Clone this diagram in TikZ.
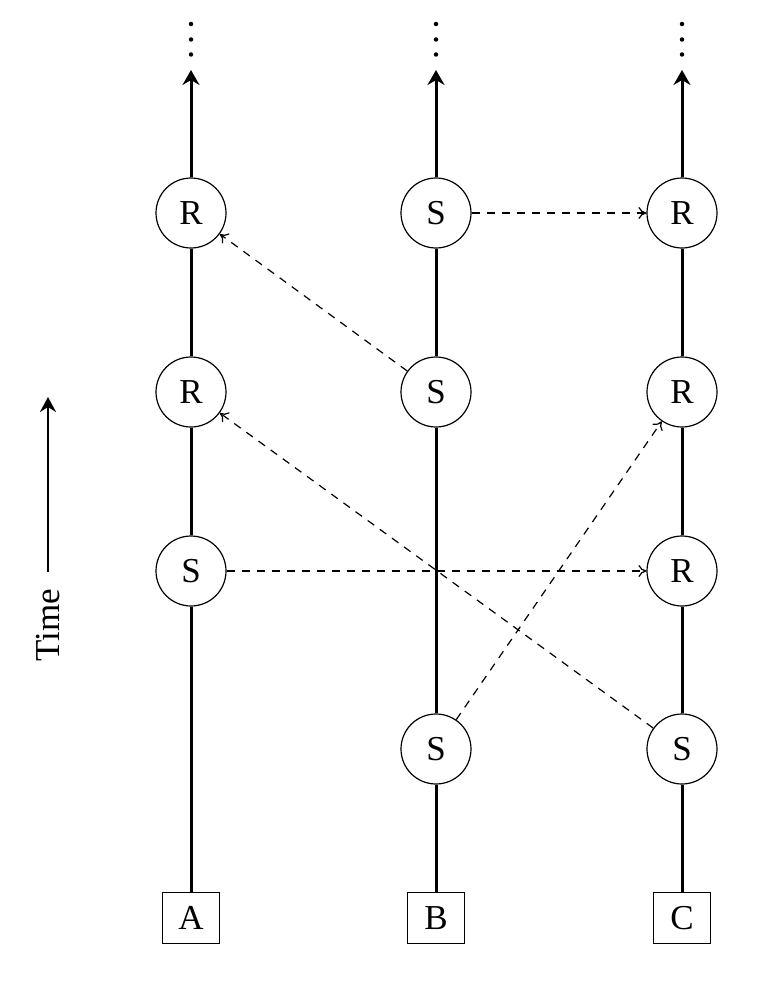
\documentclass[tikz,border=0pt]{standalone}
\usepackage{fontspec}
\setmainfont{Liberation Serif}
\usetikzlibrary{arrows.meta}
\begin{document}
\begin{tikzpicture}[x=1pt,y=-1pt,
  font=\fontsize{35}{42}\selectfont,
  ev/.style={circle,draw,line width=1.2pt,minimum size=70pt,inner sep=0pt},
  proc/.style={rectangle,draw,line width=1.2pt,minimum width=57pt,minimum height=51pt,inner sep=0pt},
  tl/.style={line width=3pt},
  tla/.style={line width=3pt,-{Stealth[length=15pt,width=17pt,inset=5pt]}},
  timearrow/.style={line width=2.6pt,-{Stealth[length=15pt,width=16pt,inset=5pt]}},
  msg/.style={dash pattern=on 8pt off 7pt,line width=1.2pt,-{To[length=8pt,width=12pt]}},
  vdot/.style={circle,fill,inner sep=0pt,minimum size=4.5pt}]
\useasboundingbox (0,0) rectangle (768,982);

% process boxes
\node[proc] (A) at (191,918) {A};
\node[proc] (B) at (436,918) {B};
\node[proc] (C) at (682,918) {C};

% events
\node[ev] (A1) at (191,213) {R};
\node[ev] (A2) at (191,392) {R};
\node[ev] (A3) at (191,571) {S};

\node[ev] (B1) at (436,213) {S};
\node[ev] (B2) at (436,392) {S};
\node[ev] (B4) at (436,749) {S};

\node[ev] (C1) at (682,213) {R};
\node[ev] (C2) at (682,392) {R};
\node[ev] (C3) at (682,571) {R};
\node[ev] (C4) at (682,749) {S};

% top ends
\coordinate (Atop) at (191,70);
\coordinate (Btop) at (436,70);
\coordinate (Ctop) at (682,70);

% dots
\foreach \c/\x in {A/191,B/436,C/682}{
  \node[vdot] (\c d1) at (\x,24) {};
  \node[vdot] (\c d2) at (\x,39.5) {};
  \node[vdot] (\c d3) at (\x,54.5) {};
}

% timelines
\draw[tl] (A) -- (A3);
\draw[tl] (A3) -- (A2);
\draw[tl] (A2) -- (A1);
\draw[tla] (A1) -- (Atop);

\draw[tl] (B) -- (B4);
\draw[tl] (B4) -- (B2);
\draw[tl] (B2) -- (B1);
\draw[tla] (B1) -- (Btop);

\draw[tl] (C) -- (C4);
\draw[tl] (C4) -- (C3);
\draw[tl] (C3) -- (C2);
\draw[tl] (C2) -- (C1);
\draw[tla] (C1) -- (Ctop);

% messages
\draw[msg] (B1) -- (C1);
\draw[msg] (B2) -- (A1);
\draw[msg] (A3) -- (C3);
\draw[msg] (B4) -- (C2);
\draw[msg] (C4) -- (A2);

% time axis
\node[rotate=90] (time) at (48.5,625.5) {Time};
\coordinate (t0) at (48,572);
\coordinate (t1) at (48,397);
\draw[timearrow] (t0) -- (t1);
\end{tikzpicture}
\end{document}
